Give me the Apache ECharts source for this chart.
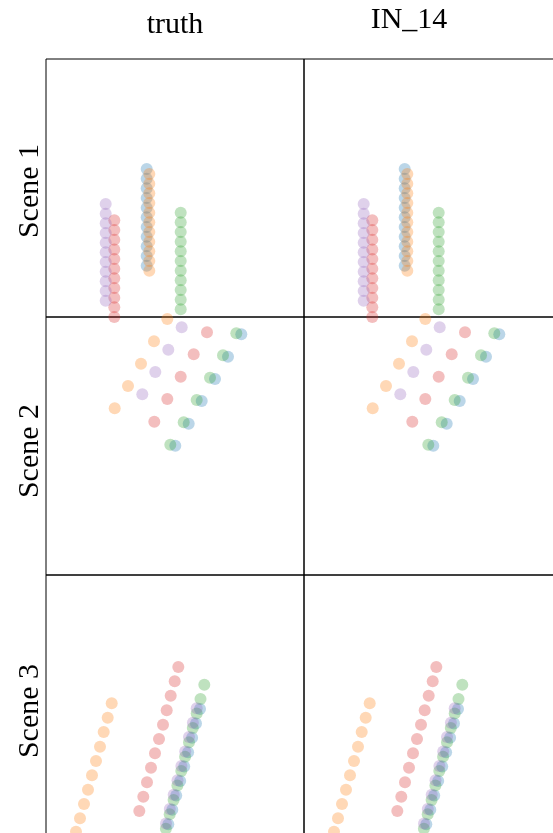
<!DOCTYPE html>
<html>
<head>
<meta charset="utf-8">
<style>
  html, body { margin: 0; padding: 0; background: #fff; overflow: hidden; width: 553px; height: 833px; }
  #mainChart { width: 600px; height: 880px; }
</style>
<script src="https://cdn.jsdelivr.net/npm/echarts@6/dist/echarts.min.js"></script>
</head>
<body>
<div id="mainChart"></div>
<script>
// column titles / row labels
var colTitles = ['truth', 'IN_14'];
var rowTitles = ['Scene 1', 'Scene 2', 'Scene 3'];

// scene 1 - [x, y] in panel units (0..258, y up)
var s1Blue   = [[100.7,148],[100.7,138.3],[100.7,128.7],[100.7,119],[100.7,109.3],[100.7,99.7],[100.7,90],[100.7,80.3],[100.7,70.7],[100.7,61],[100.7,51.3]];
var s1Orange = [[103.3,143],[103.3,133.3],[103.3,123.7],[103.3,114],[103.3,104.3],[103.3,94.7],[103.3,85],[103.3,75.3],[103.3,65.7],[103.3,56],[103.3,46.3]];
var s1Green  = [[134.7,104.3],[134.7,94.7],[134.7,85],[134.7,75.3],[134.7,65.7],[134.7,56],[134.7,46.3],[134.7,36.7],[134.7,27],[134.7,17.3],[134.7,7.7]];
var s1Red    = [[68.3,96.7],[68.3,87],[68.3,77.3],[68.3,67.6],[68.3,58],[68.3,48.3],[68.3,38.7],[68.3,29],[68.3,19.3],[68.3,9.7],[68.3,0]];
var s1Purple = [[59.7,113],[59.7,103.3],[59.7,93.7],[59.7,84],[59.7,74.3],[59.7,64.7],[59.7,55],[59.7,45.3],[59.7,35.7],[59.7,26],[59.7,16.3]];

// scene 2
var s2Blue   = [[195.3,240.7],[182,218.3],[169,196],[155.7,174],[142.7,151.3],[129.3,129.3]];
var s2Orange = [[121.3,256],[108,233.7],[95,211.3],[82,189],[68.7,166.7]];
var s2Green  = [[190.3,241.7],[177,219.7],[164,197.3],[150.7,175],[137.7,152.7],[124.3,130.3]];
var s2Red    = [[161,242.7],[147.7,220.7],[134.7,198.3],[121.3,176],[108.3,153.3]];
var s2Purple = [[135.7,247.7],[122.3,225.3],[109.3,203],[96.3,180.7]];

// scene 3
var s3Blue   = [[154,124],[150,109.6],[146.1,95.2],[142.1,80.8],[138.2,66.4],[134.2,52],[130.2,37.6],[126.3,23.2],[122.3,8.8]];
var s3Orange = [[65.7,129.7],[61.7,115.3],[57.7,101],[54,86.3],[50,72],[46,57.7],[42,43.3],[38,29],[34,14.7],[30,1.3]];
var s3Green  = [[158.3,148.3],[154.5,133.9],[150.7,119.5],[146.8,105.1],[143,90.7],[139.1,76.3],[135.3,61.9],[131.4,47.5],[127.6,33.1],[123.7,18.7],[119.9,4.3]];
var s3Red    = [[132.3,166],[128.7,151.7],[124.7,137.3],[120.7,122.7],[117,108.3],[113,94],[109,79.7],[105,65.3],[101,50.7],[97.3,36.3],[93.3,22]];
var s3Purple = [[150.7,124.7],[146.9,110.3],[143,95.9],[139.2,81.5],[135.4,67.1],[131.5,52.7],[127.7,38.3],[123.8,23.9],[120,9.5]];

var colors = ['#1f77b4', '#ff7f0e', '#2ca02c', '#d62728', '#9467bd'];
var scenes = [
    [s1Blue, s1Orange, s1Green, s1Red, s1Purple],
    [s2Blue, s2Orange, s2Green, s2Red, s2Purple],
    [s3Blue, s3Orange, s3Green, s3Red, s3Purple]
];

var PANEL = 258;
var LEFT = 46;
var TOP = 59;
var FONT = '30px "Liberation Serif", "Times New Roman", serif';

var mainChart;

function init() {
    mainChart = echarts.init(document.getElementById('mainChart'), null, {renderer: 'canvas'});
    mainChart.setOption(makeOptions());
}

function textItem(txt, x, y, rot) {
    return {
        type: 'text',
        x: x,
        y: y,
        rotation: rot || 0,
        style: {text: txt, font: FONT, fill: '#000', textAlign: 'center', textVerticalAlign: 'middle'}
    };
}

function makeOptions() {
    var grids = [], xAxes = [], yAxes = [], series = [], graphics = [];
    var idx = 0;
    for (var r = 0; r < 3; r++) {
        // last row is cut off by the picture edge: stretch it 1 unit down so its bottom border falls outside
        var extra = (r == 2) ? 1 : 0;
        for (var c = 0; c < 2; c++) {
            grids.push({
                left: LEFT + c * PANEL,
                top: TOP + r * PANEL,
                width: PANEL,
                height: PANEL + extra,
                show: true,
                borderColor: '#000',
                borderWidth: 1,
                backgroundColor: 'transparent'
            });
            xAxes.push({gridIndex: idx, type: 'value', min: 0, max: PANEL, show: false});
            yAxes.push({gridIndex: idx, type: 'value', min: -extra, max: PANEL, show: false});
            // truth and IN_14 look the same at this resolution
            for (var k = 0; k < 5; k++) {
                series.push({
                    type: 'scatter',
                    xAxisIndex: idx,
                    yAxisIndex: idx,
                    clip: false,
                    symbol: 'circle',
                    symbolSize: 12,
                    silent: true,
                    itemStyle: {color: colors[k], opacity: 0.3},
                    data: scenes[r][k]
                });
            }
            idx++;
        }
    }

    // column titles
    graphics.push(textItem(colTitles[0], 175, 25));
    graphics.push(textItem(colTitles[1], 409, 20));

    // row labels
    var rowY = [191, 451, 711];
    for (var i = 0; i < 3; i++) {
        graphics.push(textItem(rowTitles[i], 30, rowY[i], Math.PI / 2));
    }

    return {
        animation: false,
        backgroundColor: '#fff',
        grid: grids,
        xAxis: xAxes,
        yAxis: yAxes,
        series: series,
        graphic: graphics
    };
}

init();
</script>
</body>
</html>
